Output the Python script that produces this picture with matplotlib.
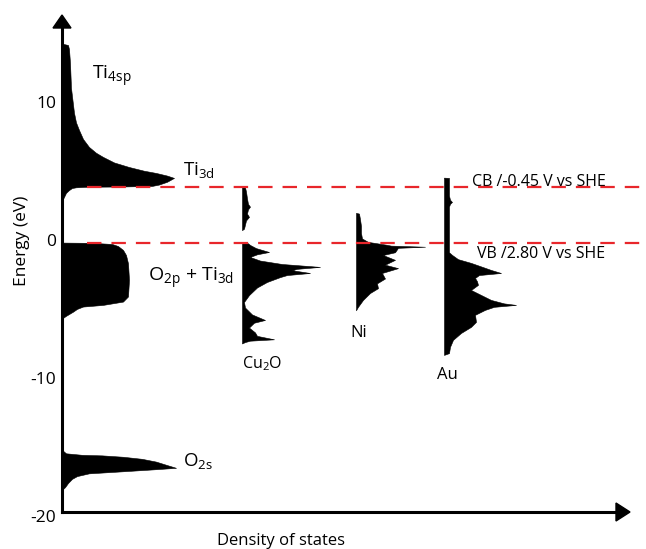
import matplotlib
matplotlib.use("Agg")
import matplotlib.pyplot as plt
from matplotlib.patches import Polygon
import numpy as np

plt.rcParams['font.family'] = ['Open Sans', 'DejaVu Sans']

# ---------------- data (energy in eV, DOS in arbitrary units) ----------------
ti_cb_energy = [14.2, 14.1, 13.8, 12.8, 11.0, 9.2, 8.5, 7.95, 7.3, 6.72, 6.3, 6.0, 5.6,
                5.27, 5.0, 4.84, 4.65, 4.48, 4.2, 4.0, 3.9, 3.86, 3.84, 3.8, 3.75, 3.6,
                3.4, 3.1, 2.8]
ti_cb_dos = [0, 6, 7, 8, 9, 12, 14, 17, 21, 27, 34, 41, 52,
             67, 82, 94, 105, 112, 105, 97, 90, 60, 25, 14, 10, 7,
             4, 2, 0]

ti_vb_energy = [-0.2, -0.22, -0.3, -0.45, -0.73, -1.1, -1.7, -2.9, -4.1, -4.47, -4.71,
                -4.83, -5.0, -5.2, -5.5, -5.7]
ti_vb_dos = [0, 30, 50, 56, 61, 64, 66, 67, 66, 61, 41, 21, 15, 11, 4, 0]

o2s_energy = [-15.2, -15.45, -15.56, -15.6, -15.7, -15.85, -16.05, -16.3, -16.5, -16.6,
              -16.75, -16.9, -17.1, -17.3, -17.6, -17.9, -18.1]
o2s_dos = [0, 4, 20, 40, 61, 80, 94, 105, 114, 94, 61, 27, 15, 10, 6, 3, 0]

cu2o_cb_energy = [3.85, 3.8, 3.5, 3.0, 2.6, 2.4, 2.2, 1.9, 1.66, 1.4, 1.1, 0.8, 0.7]
cu2o_cb_dos = [0, 3, 4, 5, 6, 8, 6, 5, 7, 4, 3, 2, 0]

cu2o_vb_energy = [-0.2, -0.25, -0.37, -0.6, -0.88, -1.05, -1.24, -1.5, -1.75, -1.96, -2.1,
                  -2.2, -2.4, -2.55, -2.7, -3.05, -3.45, -4.0, -4.5, -4.9, -5.4, -5.8,
                  -6.0, -6.35, -6.7, -6.95, -7.2, -7.3, -7.4, -7.5]
cu2o_vb_dos = [0, 6, 8, 14, 27, 15, 8, 18, 40, 78, 55,
               50, 68, 45, 38, 25, 15, 7, 2, 3, 10, 23,
               12, 7, 13, 15, 32, 8, 3, 0]

ni_energy = [1.95, 1.9, 1.5, 1.0, 0.5, 0.1, -0.15, -0.35, -0.42, -0.5, -0.58, -0.9, -1.1,
             -1.45, -1.8, -2.05, -2.4, -2.8, -3.15, -3.5, -3.85, -4.35, -4.85, -5.1]
ni_dos = [0, 3, 4, 5, 5, 6, 12, 30, 35, 69, 42, 39, 27,
          39, 29, 42, 26, 29, 21, 22, 14, 7, 2, 0]

au_energy = [4.5, 4.48, 3.2, 2.9, 2.74, 2.6, 2.4, -0.9, -1.09, -1.4, -1.67, -2.0, -2.18,
             -2.4, -2.55, -2.76, -3.0, -3.26, -3.63, -3.99, -4.35, -4.6, -4.71, -4.85,
             -5.07, -5.43, -5.94, -6.3, -6.74, -7.24, -7.75, -8.2, -8.33]
au_dos = [0, 5, 5, 6, 8, 6, 5, 5, 8, 14, 27, 40, 47,
          57, 35, 31, 33, 34, 27, 37, 47, 60, 72, 50,
          41, 31, 32, 27, 17, 9, 6, 5, 0]

cb_level = 3.85
vb_level = -0.25

y_ticks = [10, 0, -10, -20]
y_tick_labels = ['10', '0', '-10', '-20']

# ---------------- layout ----------------
W, H = 646, 549
fig = plt.figure(figsize=(W / 100, H / 100), dpi=100)
ax = fig.add_axes([62 / W, (H - 530) / H, 566 / W, 515 / H])
ax.set_xlim(0, 566)
ax.set_ylim(-21, 16.27)
for s in ax.spines.values():
    s.set_visible(False)

x_axis_e = -19.69
ybot_frac = (x_axis_e + 21) / (16.27 + 21)

# baselines of each DOS panel (horizontal offsets)
off_ti, off_cu, off_ni, off_au = 0, 180, 294, 382

def fill(off, e, d):
    e = np.asarray(e, float)
    d = np.asarray(d, float)
    ax.fill_betweenx(e, off, off + d, color='black', lw=0.4, edgecolor='black', zorder=3)

fill(off_ti, ti_cb_energy, ti_cb_dos)
fill(off_ti, ti_vb_energy, ti_vb_dos)
fill(off_ti, o2s_energy, o2s_dos)
fill(off_cu, cu2o_cb_energy, cu2o_cb_dos)
fill(off_cu, cu2o_vb_energy, cu2o_vb_dos)
fill(off_ni, ni_energy, ni_dos)
fill(off_au, au_energy, au_dos)

# red dashed band-edge lines
red = '#e8262b'
for lvl in (cb_level, vb_level):
    ax.axhline(lvl, xmin=25 / 566, xmax=584 / 566, color=red, lw=1.6,
               linestyle=(0, (6.5, 4.5)), clip_on=False, zorder=4)

# axes lines with arrow heads
ax.axvline(0, ymin=ybot_frac, ymax=1 - 12 / 515, color='black', lw=2.2, zorder=5,
           clip_on=False)
ax.axhline(x_axis_e, xmin=0, xmax=1 - 12 / 566, color='black', lw=2.2, zorder=5,
           clip_on=False)

def px(xp, yp):
    return (xp / 100, (H - yp) / 100)

fig.patches.append(Polygon([px(62, 15), px(53, 28), px(71, 28)], closed=True,
                           color='black', transform=fig.dpi_scale_trans))
fig.patches.append(Polygon([px(630, 512), px(616, 503), px(616, 521)], closed=True,
                           color='black', transform=fig.dpi_scale_trans))

# ticks
ax.set_xticks([])
ax.set_yticks(y_ticks)
ax.set_yticklabels(y_tick_labels, fontsize=12.5)
ax.tick_params(axis='y', length=0, pad=4)

fig.text(22 / W, (H - 241) / H, 'Energy (eV)', fontsize=12.5, rotation=90,
         ha='center', va='center')
fig.text(281 / W, (H - 541) / H, 'Density of states', fontsize=12, ha='center',
         va='center')

# labels
fs = 14
ax.text(30, 11.57, r'Ti$\mathregular{_{4sp}}$', fontsize=fs, va='baseline')
ax.text(121, 4.7, r'Ti$\mathregular{_{3d}}$', fontsize=13.5, va='baseline')
ax.text(86, -3.05, r'O$\mathregular{_{2p}}$ + Ti$\mathregular{_{3d}}$', fontsize=fs,
        va='baseline')
ax.text(180, -9.27, r'Cu$\mathregular{_2}$O', fontsize=11.5, va='baseline')
ax.text(288, -7.03, 'Ni', fontsize=12, va='baseline')
ax.text(375, -10.1, 'Au', fontsize=12, va='baseline')
ax.text(121, -16.4, r'O$\mathregular{_{2s}}$', fontsize=13.5, va='baseline')
ax.text(410, 3.9, 'CB /-0.45 V vs SHE', fontsize=11.5, va='baseline')
ax.text(415, -1.31, 'VB /2.80 V vs SHE', fontsize=11.5, va='baseline')

fig.savefig('out.png', dpi=100)
